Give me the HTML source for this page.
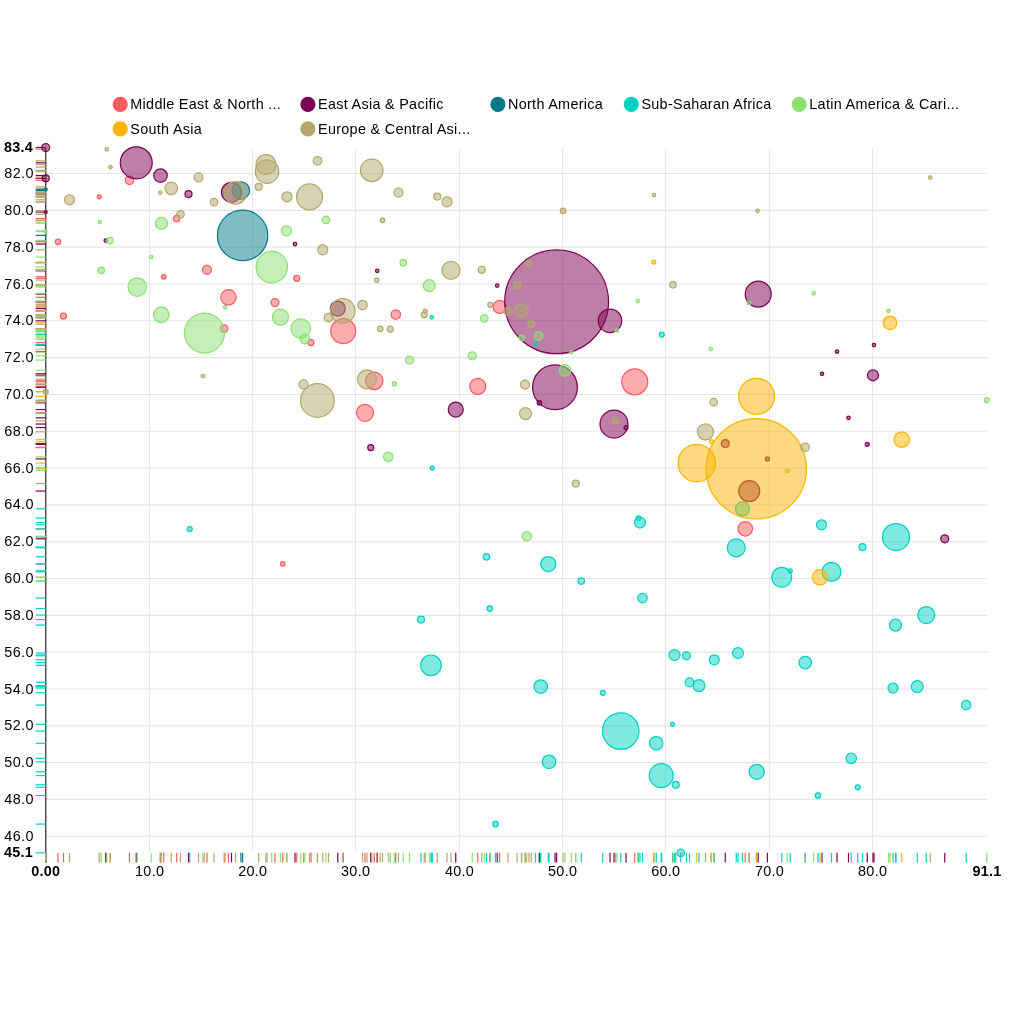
<!DOCTYPE html>
<html><head><meta charset="utf-8"><title>Bubble chart</title>
<style>
html,body{margin:0;padding:0;background:#fff;}
svg{display:block;font-family:"Liberation Sans",sans-serif;font-size:14.4px;fill:#000;letter-spacing:.3px;}
.grid line{stroke:#e4e4e4;stroke-width:1.1;}
.grid line.v{stroke:#e7e7e7;stroke-width:1;}
.pt circle{fill-opacity:.5;stroke-width:1.2;}
.dist line{stroke-width:1.2;}
.b{font-weight:bold;}
</style></head><body>
<svg width="1024" height="1024" viewBox="0 0 1024 1024">
<rect width="1024" height="1024" fill="#fff"/>
<g class="legend">
<circle cx="120.2" cy="104.3" r="6.4" fill="#ff5a5f" stroke="#ff5a5f" stroke-width="2.4"/><text x="130.3" y="104.3" dy=".32em">Middle East &amp; North ...</text>
<circle cx="307.9" cy="104.3" r="6.4" fill="#7b0051" stroke="#7b0051" stroke-width="2.4"/><text x="318.0" y="104.3" dy=".32em">East Asia &amp; Pacific</text>
<circle cx="497.9" cy="104.3" r="6.4" fill="#007a87" stroke="#007a87" stroke-width="2.4"/><text x="508.0" y="104.3" dy=".32em">North America</text>
<circle cx="631.3" cy="104.3" r="6.4" fill="#00d1c1" stroke="#00d1c1" stroke-width="2.4"/><text x="641.4" y="104.3" dy=".32em">Sub-Saharan Africa</text>
<circle cx="799.2" cy="104.3" r="6.4" fill="#8ce071" stroke="#8ce071" stroke-width="2.4"/><text x="809.3" y="104.3" dy=".32em">Latin America &amp; Cari...</text>
<circle cx="120.2" cy="128.9" r="6.4" fill="#ffb400" stroke="#ffb400" stroke-width="2.4"/><text x="130.3" y="128.9" dy=".32em">South Asia</text>
<circle cx="307.9" cy="128.9" r="6.4" fill="#b4a76c" stroke="#b4a76c" stroke-width="2.4"/><text x="318.0" y="128.9" dy=".32em">Europe &amp; Central Asi...</text>
</g>
<g class="grid">
<line x1="45.75" x2="987.0" y1="836.23" y2="836.23"/>
<line x1="45.75" x2="987.0" y1="799.42" y2="799.42"/>
<line x1="45.75" x2="987.0" y1="762.60" y2="762.60"/>
<line x1="45.75" x2="987.0" y1="725.78" y2="725.78"/>
<line x1="45.75" x2="987.0" y1="688.96" y2="688.96"/>
<line x1="45.75" x2="987.0" y1="652.15" y2="652.15"/>
<line x1="45.75" x2="987.0" y1="615.33" y2="615.33"/>
<line x1="45.75" x2="987.0" y1="578.51" y2="578.51"/>
<line x1="45.75" x2="987.0" y1="541.69" y2="541.69"/>
<line x1="45.75" x2="987.0" y1="504.88" y2="504.88"/>
<line x1="45.75" x2="987.0" y1="468.06" y2="468.06"/>
<line x1="45.75" x2="987.0" y1="431.24" y2="431.24"/>
<line x1="45.75" x2="987.0" y1="394.43" y2="394.43"/>
<line x1="45.75" x2="987.0" y1="357.61" y2="357.61"/>
<line x1="45.75" x2="987.0" y1="320.79" y2="320.79"/>
<line x1="45.75" x2="987.0" y1="283.97" y2="283.97"/>
<line x1="45.75" x2="987.0" y1="247.16" y2="247.16"/>
<line x1="45.75" x2="987.0" y1="210.34" y2="210.34"/>
<line x1="45.75" x2="987.0" y1="173.52" y2="173.52"/>
<line class="v" x1="149.50" x2="149.50" y1="147.75" y2="852.8"/>
<line class="v" x1="252.60" x2="252.60" y1="147.75" y2="852.8"/>
<line class="v" x1="355.50" x2="355.50" y1="147.75" y2="852.8"/>
<line class="v" x1="459.40" x2="459.40" y1="147.75" y2="852.8"/>
<line class="v" x1="562.50" x2="562.50" y1="147.75" y2="852.8"/>
<line class="v" x1="665.60" x2="665.60" y1="147.75" y2="852.8"/>
<line class="v" x1="769.40" x2="769.40" y1="147.75" y2="852.8"/>
<line class="v" x1="872.50" x2="872.50" y1="147.75" y2="852.8"/>
</g>
<g class="ylab" text-anchor="end">
<text x="34.0" y="836.23" dy=".32em" style="letter-spacing:.45px">46.0</text>
<text x="34.0" y="799.42" dy=".32em" style="letter-spacing:.45px">48.0</text>
<text x="34.0" y="762.60" dy=".32em" style="letter-spacing:.45px">50.0</text>
<text x="34.0" y="725.78" dy=".32em" style="letter-spacing:.45px">52.0</text>
<text x="34.0" y="688.96" dy=".32em" style="letter-spacing:.45px">54.0</text>
<text x="34.0" y="652.15" dy=".32em" style="letter-spacing:.45px">56.0</text>
<text x="34.0" y="615.33" dy=".32em" style="letter-spacing:.45px">58.0</text>
<text x="34.0" y="578.51" dy=".32em" style="letter-spacing:.45px">60.0</text>
<text x="34.0" y="541.69" dy=".32em" style="letter-spacing:.45px">62.0</text>
<text x="34.0" y="504.88" dy=".32em" style="letter-spacing:.45px">64.0</text>
<text x="34.0" y="468.06" dy=".32em" style="letter-spacing:.45px">66.0</text>
<text x="34.0" y="431.24" dy=".32em" style="letter-spacing:.45px">68.0</text>
<text x="34.0" y="394.43" dy=".32em" style="letter-spacing:.45px">70.0</text>
<text x="34.0" y="357.61" dy=".32em" style="letter-spacing:.45px">72.0</text>
<text x="34.0" y="320.79" dy=".32em" style="letter-spacing:.45px">74.0</text>
<text x="34.0" y="283.97" dy=".32em" style="letter-spacing:.45px">76.0</text>
<text x="34.0" y="247.16" dy=".32em" style="letter-spacing:.45px">78.0</text>
<text x="34.0" y="210.34" dy=".32em" style="letter-spacing:.45px">80.0</text>
<text x="34.0" y="173.52" dy=".32em" style="letter-spacing:.45px">82.0</text>
<text class="b" x="33.2" y="147.75" dy=".32em">83.4</text>
<text class="b" x="33.2" y="852.8" dy=".32em">45.1</text>
</g>
<g class="xlab" text-anchor="middle">
<text x="149.65" y="875.8">10.0</text>
<text x="252.75" y="875.8">20.0</text>
<text x="355.65" y="875.8">30.0</text>
<text x="459.55" y="875.8">40.0</text>
<text x="562.65" y="875.8">50.0</text>
<text x="665.75" y="875.8">60.0</text>
<text x="769.55" y="875.8">70.0</text>
<text x="872.65" y="875.8">80.0</text>
<text class="b" x="45.75" y="875.8">0.00</text>
<text class="b" x="987.0" y="875.8">91.1</text>
</g>
<line x1="45.75" x2="45.75" y1="147.75" y2="852.8" stroke="#000" stroke-opacity=".78" stroke-width="1.3"/>
<g class="dist">
<g stroke="#ff5a5f">
<line x1="35.65" x2="45.75" y1="180.30" y2="180.30"/><line x1="35.65" x2="45.75" y1="196.80" y2="196.80"/><line x1="35.65" x2="45.75" y1="241.80" y2="241.80"/><line x1="35.65" x2="45.75" y1="276.80" y2="276.80"/><line x1="35.65" x2="45.75" y1="316.05" y2="316.05"/><line x1="35.65" x2="45.75" y1="328.55" y2="328.55"/><line x1="35.65" x2="45.75" y1="297.30" y2="297.30"/><line x1="35.65" x2="45.75" y1="269.80" y2="269.80"/><line x1="35.65" x2="45.75" y1="218.55" y2="218.55"/><line x1="35.65" x2="45.75" y1="278.30" y2="278.30"/><line x1="35.65" x2="45.75" y1="302.55" y2="302.55"/><line x1="35.65" x2="45.75" y1="342.55" y2="342.55"/><line x1="35.65" x2="45.75" y1="331.05" y2="331.05"/><line x1="35.65" x2="45.75" y1="314.55" y2="314.55"/><line x1="35.65" x2="45.75" y1="306.90" y2="306.90"/><line x1="35.65" x2="45.75" y1="380.80" y2="380.80"/><line x1="35.65" x2="45.75" y1="386.30" y2="386.30"/><line x1="35.65" x2="45.75" y1="381.80" y2="381.80"/><line x1="35.65" x2="45.75" y1="412.80" y2="412.80"/><line x1="35.65" x2="45.75" y1="563.80" y2="563.80"/><line x1="35.65" x2="45.75" y1="528.80" y2="528.80"/>
<line x1="129.5" x2="129.5" y1="852.8" y2="862.40"/><line x1="99.25" x2="99.25" y1="852.8" y2="862.40"/><line x1="58" x2="58" y1="852.8" y2="862.40"/><line x1="163.75" x2="163.75" y1="852.8" y2="862.40"/><line x1="63.5" x2="63.5" y1="852.8" y2="862.40"/><line x1="224.25" x2="224.25" y1="852.8" y2="862.40"/><line x1="228.5" x2="228.5" y1="852.8" y2="862.40"/><line x1="207" x2="207" y1="852.8" y2="862.40"/><line x1="176.75" x2="176.75" y1="852.8" y2="862.40"/><line x1="296.75" x2="296.75" y1="852.8" y2="862.40"/><line x1="275" x2="275" y1="852.8" y2="862.40"/><line x1="311" x2="311" y1="852.8" y2="862.40"/><line x1="343.25" x2="343.25" y1="852.8" y2="862.40"/><line x1="395.75" x2="395.75" y1="852.8" y2="862.40"/><line x1="499.6" x2="499.6" y1="852.8" y2="862.40"/><line x1="374.25" x2="374.25" y1="852.8" y2="862.40"/><line x1="477.75" x2="477.75" y1="852.8" y2="862.40"/><line x1="634.75" x2="634.75" y1="852.8" y2="862.40"/><line x1="365" x2="365" y1="852.8" y2="862.40"/><line x1="282.75" x2="282.75" y1="852.8" y2="862.40"/><line x1="745.25" x2="745.25" y1="852.8" y2="862.40"/>
</g>
<g stroke="#7b0051">
<line x1="35.65" x2="45.75" y1="147.55" y2="147.55"/><line x1="35.65" x2="45.75" y1="178.30" y2="178.30"/><line x1="35.65" x2="45.75" y1="212.05" y2="212.05"/><line x1="35.65" x2="45.75" y1="162.80" y2="162.80"/><line x1="35.65" x2="45.75" y1="240.55" y2="240.55"/><line x1="35.65" x2="45.75" y1="175.55" y2="175.55"/><line x1="35.65" x2="45.75" y1="194.05" y2="194.05"/><line x1="35.65" x2="45.75" y1="192.30" y2="192.30"/><line x1="35.65" x2="45.75" y1="244.05" y2="244.05"/><line x1="35.65" x2="45.75" y1="270.80" y2="270.80"/><line x1="35.65" x2="45.75" y1="285.55" y2="285.55"/><line x1="35.65" x2="45.75" y1="308.55" y2="308.55"/><line x1="35.65" x2="45.75" y1="301.80" y2="301.80"/><line x1="35.65" x2="45.75" y1="320.80" y2="320.80"/><line x1="35.65" x2="45.75" y1="294.05" y2="294.05"/><line x1="35.65" x2="45.75" y1="387.30" y2="387.30"/><line x1="35.65" x2="45.75" y1="345.05" y2="345.05"/><line x1="35.65" x2="45.75" y1="351.55" y2="351.55"/><line x1="35.65" x2="45.75" y1="373.80" y2="373.80"/><line x1="35.65" x2="45.75" y1="375.30" y2="375.30"/><line x1="35.65" x2="45.75" y1="409.55" y2="409.55"/><line x1="35.65" x2="45.75" y1="447.55" y2="447.55"/><line x1="35.65" x2="45.75" y1="402.80" y2="402.80"/><line x1="35.65" x2="45.75" y1="424.05" y2="424.05"/><line x1="35.65" x2="45.75" y1="427.55" y2="427.55"/><line x1="35.65" x2="45.75" y1="443.55" y2="443.55"/><line x1="35.65" x2="45.75" y1="491.05" y2="491.05"/><line x1="35.65" x2="45.75" y1="458.90" y2="458.90"/><line x1="35.65" x2="45.75" y1="417.80" y2="417.80"/><line x1="35.65" x2="45.75" y1="444.30" y2="444.30"/><line x1="35.65" x2="45.75" y1="538.80" y2="538.80"/>
<line x1="45.75" x2="45.75" y1="852.8" y2="862.40"/><line x1="45.75" x2="45.75" y1="852.8" y2="862.40"/><line x1="45.75" x2="45.75" y1="852.8" y2="862.40"/><line x1="136.25" x2="136.25" y1="852.8" y2="862.40"/><line x1="105.75" x2="105.75" y1="852.8" y2="862.40"/><line x1="160.5" x2="160.5" y1="852.8" y2="862.40"/><line x1="188.5" x2="188.5" y1="852.8" y2="862.40"/><line x1="231.5" x2="231.5" y1="852.8" y2="862.40"/><line x1="295" x2="295" y1="852.8" y2="862.40"/><line x1="377.25" x2="377.25" y1="852.8" y2="862.40"/><line x1="497.2" x2="497.2" y1="852.8" y2="862.40"/><line x1="337.75" x2="337.75" y1="852.8" y2="862.40"/><line x1="556.6" x2="556.6" y1="852.8" y2="862.40"/><line x1="610" x2="610" y1="852.8" y2="862.40"/><line x1="758.25" x2="758.25" y1="852.8" y2="862.40"/><line x1="555" x2="555" y1="852.8" y2="862.40"/><line x1="874" x2="874" y1="852.8" y2="862.40"/><line x1="837" x2="837" y1="852.8" y2="862.40"/><line x1="822" x2="822" y1="852.8" y2="862.40"/><line x1="873" x2="873" y1="852.8" y2="862.40"/><line x1="455.75" x2="455.75" y1="852.8" y2="862.40"/><line x1="370.75" x2="370.75" y1="852.8" y2="862.40"/><line x1="539.5" x2="539.5" y1="852.8" y2="862.40"/><line x1="614" x2="614" y1="852.8" y2="862.40"/><line x1="626" x2="626" y1="852.8" y2="862.40"/><line x1="725.25" x2="725.25" y1="852.8" y2="862.40"/><line x1="749.25" x2="749.25" y1="852.8" y2="862.40"/><line x1="767.4" x2="767.4" y1="852.8" y2="862.40"/><line x1="848.5" x2="848.5" y1="852.8" y2="862.40"/><line x1="867.25" x2="867.25" y1="852.8" y2="862.40"/><line x1="944.75" x2="944.75" y1="852.8" y2="862.40"/>
</g>
<g stroke="#007a87">
<line x1="35.65" x2="45.75" y1="189.30" y2="189.30"/><line x1="35.65" x2="45.75" y1="190.50" y2="190.50"/><line x1="35.65" x2="45.75" y1="235.40" y2="235.40"/>
<line x1="45.75" x2="45.75" y1="852.8" y2="862.40"/><line x1="240.9" x2="240.9" y1="852.8" y2="862.40"/><line x1="242.6" x2="242.6" y1="852.8" y2="862.40"/>
</g>
<g stroke="#00d1c1">
<line x1="35.65" x2="45.75" y1="317.30" y2="317.30"/><line x1="35.65" x2="45.75" y1="334.55" y2="334.55"/><line x1="35.65" x2="45.75" y1="344.30" y2="344.30"/><line x1="35.65" x2="45.75" y1="529.05" y2="529.05"/><line x1="35.65" x2="45.75" y1="468.05" y2="468.05"/><line x1="35.65" x2="45.75" y1="556.80" y2="556.80"/><line x1="35.65" x2="45.75" y1="608.55" y2="608.55"/><line x1="35.65" x2="45.75" y1="619.55" y2="619.55"/><line x1="35.65" x2="45.75" y1="508.80" y2="508.80"/><line x1="35.65" x2="45.75" y1="547.80" y2="547.80"/><line x1="35.65" x2="45.75" y1="522.55" y2="522.55"/><line x1="35.65" x2="45.75" y1="518.05" y2="518.05"/><line x1="35.65" x2="45.75" y1="564.05" y2="564.05"/><line x1="35.65" x2="45.75" y1="581.05" y2="581.05"/><line x1="35.65" x2="45.75" y1="598.05" y2="598.05"/><line x1="35.65" x2="45.75" y1="524.80" y2="524.80"/><line x1="35.65" x2="45.75" y1="537.05" y2="537.05"/><line x1="35.65" x2="45.75" y1="547.05" y2="547.05"/><line x1="35.65" x2="45.75" y1="577.30" y2="577.30"/><line x1="35.65" x2="45.75" y1="570.80" y2="570.80"/><line x1="35.65" x2="45.75" y1="571.80" y2="571.80"/><line x1="35.65" x2="45.75" y1="615.05" y2="615.05"/><line x1="35.65" x2="45.75" y1="625.05" y2="625.05"/><line x1="35.65" x2="45.75" y1="665.30" y2="665.30"/><line x1="35.65" x2="45.75" y1="824.05" y2="824.05"/><line x1="35.65" x2="45.75" y1="655.05" y2="655.05"/><line x1="35.65" x2="45.75" y1="655.80" y2="655.80"/><line x1="35.65" x2="45.75" y1="659.80" y2="659.80"/><line x1="35.65" x2="45.75" y1="653.05" y2="653.05"/><line x1="35.65" x2="45.75" y1="682.30" y2="682.30"/><line x1="35.65" x2="45.75" y1="685.55" y2="685.55"/><line x1="35.65" x2="45.75" y1="686.55" y2="686.55"/><line x1="35.65" x2="45.75" y1="692.80" y2="692.80"/><line x1="35.65" x2="45.75" y1="731.05" y2="731.05"/><line x1="35.65" x2="45.75" y1="724.30" y2="724.30"/><line x1="35.65" x2="45.75" y1="743.30" y2="743.30"/><line x1="35.65" x2="45.75" y1="761.80" y2="761.80"/><line x1="35.65" x2="45.75" y1="775.55" y2="775.55"/><line x1="35.65" x2="45.75" y1="784.80" y2="784.80"/><line x1="35.65" x2="45.75" y1="771.80" y2="771.80"/><line x1="35.65" x2="45.75" y1="852.80" y2="852.80"/><line x1="35.65" x2="45.75" y1="662.55" y2="662.55"/><line x1="35.65" x2="45.75" y1="688.05" y2="688.05"/><line x1="35.65" x2="45.75" y1="686.55" y2="686.55"/><line x1="35.65" x2="45.75" y1="705.05" y2="705.05"/><line x1="35.65" x2="45.75" y1="758.30" y2="758.30"/><line x1="35.65" x2="45.75" y1="787.30" y2="787.30"/><line x1="35.65" x2="45.75" y1="795.55" y2="795.55"/>
<line x1="431.75" x2="431.75" y1="852.8" y2="862.40"/><line x1="661.75" x2="661.75" y1="852.8" y2="862.40"/><line x1="535.5" x2="535.5" y1="852.8" y2="862.40"/><line x1="189.75" x2="189.75" y1="852.8" y2="862.40"/><line x1="432.25" x2="432.25" y1="852.8" y2="862.40"/><line x1="486.5" x2="486.5" y1="852.8" y2="862.40"/><line x1="489.75" x2="489.75" y1="852.8" y2="862.40"/><line x1="421" x2="421" y1="852.8" y2="862.40"/><line x1="742.5" x2="742.5" y1="852.8" y2="862.40"/><line x1="736.25" x2="736.25" y1="852.8" y2="862.40"/><line x1="640" x2="640" y1="852.8" y2="862.40"/><line x1="638.5" x2="638.5" y1="852.8" y2="862.40"/><line x1="548.25" x2="548.25" y1="852.8" y2="862.40"/><line x1="581.25" x2="581.25" y1="852.8" y2="862.40"/><line x1="642.5" x2="642.5" y1="852.8" y2="862.40"/><line x1="821.5" x2="821.5" y1="852.8" y2="862.40"/><line x1="896" x2="896" y1="852.8" y2="862.40"/><line x1="862.5" x2="862.5" y1="852.8" y2="862.40"/><line x1="781.75" x2="781.75" y1="852.8" y2="862.40"/><line x1="790.25" x2="790.25" y1="852.8" y2="862.40"/><line x1="831.5" x2="831.5" y1="852.8" y2="862.40"/><line x1="926.25" x2="926.25" y1="852.8" y2="862.40"/><line x1="895.5" x2="895.5" y1="852.8" y2="862.40"/><line x1="431" x2="431" y1="852.8" y2="862.40"/><line x1="495.5" x2="495.5" y1="852.8" y2="862.40"/><line x1="674.5" x2="674.5" y1="852.8" y2="862.40"/><line x1="686.5" x2="686.5" y1="852.8" y2="862.40"/><line x1="714.25" x2="714.25" y1="852.8" y2="862.40"/><line x1="738" x2="738" y1="852.8" y2="862.40"/><line x1="689.5" x2="689.5" y1="852.8" y2="862.40"/><line x1="699" x2="699" y1="852.8" y2="862.40"/><line x1="540.75" x2="540.75" y1="852.8" y2="862.40"/><line x1="602.75" x2="602.75" y1="852.8" y2="862.40"/><line x1="620.75" x2="620.75" y1="852.8" y2="862.40"/><line x1="672.5" x2="672.5" y1="852.8" y2="862.40"/><line x1="656.25" x2="656.25" y1="852.8" y2="862.40"/><line x1="549" x2="549" y1="852.8" y2="862.40"/><line x1="661.25" x2="661.25" y1="852.8" y2="862.40"/><line x1="675.75" x2="675.75" y1="852.8" y2="862.40"/><line x1="756.75" x2="756.75" y1="852.8" y2="862.40"/><line x1="680.75" x2="680.75" y1="852.8" y2="862.40"/><line x1="805.25" x2="805.25" y1="852.8" y2="862.40"/><line x1="893" x2="893" y1="852.8" y2="862.40"/><line x1="917.25" x2="917.25" y1="852.8" y2="862.40"/><line x1="966.25" x2="966.25" y1="852.8" y2="862.40"/><line x1="851.25" x2="851.25" y1="852.8" y2="862.40"/><line x1="857.75" x2="857.75" y1="852.8" y2="862.40"/><line x1="818" x2="818" y1="852.8" y2="862.40"/>
</g>
<g stroke="#8ce071">
<line x1="35.65" x2="45.75" y1="231.55" y2="231.55"/><line x1="35.65" x2="45.75" y1="222.05" y2="222.05"/><line x1="35.65" x2="45.75" y1="240.55" y2="240.55"/><line x1="35.65" x2="45.75" y1="257.05" y2="257.05"/><line x1="35.65" x2="45.75" y1="270.30" y2="270.30"/><line x1="35.65" x2="45.75" y1="287.05" y2="287.05"/><line x1="35.65" x2="45.75" y1="314.80" y2="314.80"/><line x1="35.65" x2="45.75" y1="333.05" y2="333.05"/><line x1="35.65" x2="45.75" y1="307.30" y2="307.30"/><line x1="35.65" x2="45.75" y1="223.30" y2="223.30"/><line x1="35.65" x2="45.75" y1="219.80" y2="219.80"/><line x1="35.65" x2="45.75" y1="230.80" y2="230.80"/><line x1="35.65" x2="45.75" y1="267.05" y2="267.05"/><line x1="35.65" x2="45.75" y1="262.80" y2="262.80"/><line x1="35.65" x2="45.75" y1="285.55" y2="285.55"/><line x1="35.65" x2="45.75" y1="317.05" y2="317.05"/><line x1="35.65" x2="45.75" y1="328.55" y2="328.55"/><line x1="35.65" x2="45.75" y1="339.05" y2="339.05"/><line x1="35.65" x2="45.75" y1="318.30" y2="318.30"/><line x1="35.65" x2="45.75" y1="355.80" y2="355.80"/><line x1="35.65" x2="45.75" y1="360.05" y2="360.05"/><line x1="35.65" x2="45.75" y1="383.80" y2="383.80"/><line x1="35.65" x2="45.75" y1="301.05" y2="301.05"/><line x1="35.65" x2="45.75" y1="330.55" y2="330.55"/><line x1="35.65" x2="45.75" y1="349.05" y2="349.05"/><line x1="35.65" x2="45.75" y1="303.05" y2="303.05"/><line x1="35.65" x2="45.75" y1="336.05" y2="336.05"/><line x1="35.65" x2="45.75" y1="337.80" y2="337.80"/><line x1="35.65" x2="45.75" y1="352.05" y2="352.05"/><line x1="35.65" x2="45.75" y1="370.30" y2="370.30"/><line x1="35.65" x2="45.75" y1="293.30" y2="293.30"/><line x1="35.65" x2="45.75" y1="310.80" y2="310.80"/><line x1="35.65" x2="45.75" y1="456.80" y2="456.80"/><line x1="35.65" x2="45.75" y1="470.55" y2="470.55"/><line x1="35.65" x2="45.75" y1="536.30" y2="536.30"/><line x1="35.65" x2="45.75" y1="400.05" y2="400.05"/>
<line x1="45.75" x2="45.75" y1="852.8" y2="862.40"/><line x1="99.75" x2="99.75" y1="852.8" y2="862.40"/><line x1="110" x2="110" y1="852.8" y2="862.40"/><line x1="151.25" x2="151.25" y1="852.8" y2="862.40"/><line x1="101.25" x2="101.25" y1="852.8" y2="862.40"/><line x1="137.25" x2="137.25" y1="852.8" y2="862.40"/><line x1="161.25" x2="161.25" y1="852.8" y2="862.40"/><line x1="204.5" x2="204.5" y1="852.8" y2="862.40"/><line x1="225.25" x2="225.25" y1="852.8" y2="862.40"/><line x1="161.5" x2="161.5" y1="852.8" y2="862.40"/><line x1="326" x2="326" y1="852.8" y2="862.40"/><line x1="286.5" x2="286.5" y1="852.8" y2="862.40"/><line x1="271.75" x2="271.75" y1="852.8" y2="862.40"/><line x1="403.25" x2="403.25" y1="852.8" y2="862.40"/><line x1="429.25" x2="429.25" y1="852.8" y2="862.40"/><line x1="280.5" x2="280.5" y1="852.8" y2="862.40"/><line x1="300.75" x2="300.75" y1="852.8" y2="862.40"/><line x1="304.75" x2="304.75" y1="852.8" y2="862.40"/><line x1="484.25" x2="484.25" y1="852.8" y2="862.40"/><line x1="472.25" x2="472.25" y1="852.8" y2="862.40"/><line x1="409.5" x2="409.5" y1="852.8" y2="862.40"/><line x1="394.3" x2="394.3" y1="852.8" y2="862.40"/><line x1="637.75" x2="637.75" y1="852.8" y2="862.40"/><line x1="617" x2="617" y1="852.8" y2="862.40"/><line x1="710.75" x2="710.75" y1="852.8" y2="862.40"/><line x1="749.25" x2="749.25" y1="852.8" y2="862.40"/><line x1="538.5" x2="538.5" y1="852.8" y2="862.40"/><line x1="521.75" x2="521.75" y1="852.8" y2="862.40"/><line x1="571.25" x2="571.25" y1="852.8" y2="862.40"/><line x1="565" x2="565" y1="852.8" y2="862.40"/><line x1="813.75" x2="813.75" y1="852.8" y2="862.40"/><line x1="888.5" x2="888.5" y1="852.8" y2="862.40"/><line x1="388.25" x2="388.25" y1="852.8" y2="862.40"/><line x1="787.25" x2="787.25" y1="852.8" y2="862.40"/><line x1="526.75" x2="526.75" y1="852.8" y2="862.40"/><line x1="986.75" x2="986.75" y1="852.8" y2="862.40"/>
</g>
<g stroke="#ffb400">
<line x1="35.65" x2="45.75" y1="262.05" y2="262.05"/><line x1="35.65" x2="45.75" y1="396.30" y2="396.30"/><line x1="35.65" x2="45.75" y1="322.80" y2="322.80"/><line x1="35.65" x2="45.75" y1="468.80" y2="468.80"/><line x1="35.65" x2="45.75" y1="463.05" y2="463.05"/><line x1="35.65" x2="45.75" y1="441.55" y2="441.55"/><line x1="35.65" x2="45.75" y1="439.55" y2="439.55"/><line x1="35.65" x2="45.75" y1="577.30" y2="577.30"/>
<line x1="653.75" x2="653.75" y1="852.8" y2="862.40"/><line x1="756.6" x2="756.6" y1="852.8" y2="862.40"/><line x1="890" x2="890" y1="852.8" y2="862.40"/><line x1="756.25" x2="756.25" y1="852.8" y2="862.40"/><line x1="696.75" x2="696.75" y1="852.8" y2="862.40"/><line x1="711.5" x2="711.5" y1="852.8" y2="862.40"/><line x1="901.75" x2="901.75" y1="852.8" y2="862.40"/><line x1="820" x2="820" y1="852.8" y2="862.40"/>
</g>
<g stroke="#8ce071">


</g>
<g stroke="#b4a76c">
<line x1="35.65" x2="45.75" y1="391.80" y2="391.80"/><line x1="35.65" x2="45.75" y1="149.30" y2="149.30"/><line x1="35.65" x2="45.75" y1="167.05" y2="167.05"/><line x1="35.65" x2="45.75" y1="199.80" y2="199.80"/><line x1="35.65" x2="45.75" y1="188.30" y2="188.30"/><line x1="35.65" x2="45.75" y1="192.55" y2="192.55"/><line x1="35.65" x2="45.75" y1="177.30" y2="177.30"/><line x1="35.65" x2="45.75" y1="202.05" y2="202.05"/><line x1="35.65" x2="45.75" y1="214.30" y2="214.30"/><line x1="35.65" x2="45.75" y1="192.80" y2="192.80"/><line x1="35.65" x2="45.75" y1="376.05" y2="376.05"/><line x1="35.65" x2="45.75" y1="164.55" y2="164.55"/><line x1="35.65" x2="45.75" y1="171.55" y2="171.55"/><line x1="35.65" x2="45.75" y1="186.80" y2="186.80"/><line x1="35.65" x2="45.75" y1="160.80" y2="160.80"/><line x1="35.65" x2="45.75" y1="170.30" y2="170.30"/><line x1="35.65" x2="45.75" y1="196.80" y2="196.80"/><line x1="35.65" x2="45.75" y1="196.80" y2="196.80"/><line x1="35.65" x2="45.75" y1="192.55" y2="192.55"/><line x1="35.65" x2="45.75" y1="196.55" y2="196.55"/><line x1="35.65" x2="45.75" y1="201.80" y2="201.80"/><line x1="35.65" x2="45.75" y1="220.30" y2="220.30"/><line x1="35.65" x2="45.75" y1="249.80" y2="249.80"/><line x1="35.65" x2="45.75" y1="280.05" y2="280.05"/><line x1="35.65" x2="45.75" y1="270.30" y2="270.30"/><line x1="35.65" x2="45.75" y1="269.80" y2="269.80"/><line x1="35.65" x2="45.75" y1="317.55" y2="317.55"/><line x1="35.65" x2="45.75" y1="310.80" y2="310.80"/><line x1="35.65" x2="45.75" y1="305.05" y2="305.05"/><line x1="35.65" x2="45.75" y1="311.05" y2="311.05"/><line x1="35.65" x2="45.75" y1="314.80" y2="314.80"/><line x1="35.65" x2="45.75" y1="328.80" y2="328.80"/><line x1="35.65" x2="45.75" y1="329.05" y2="329.05"/><line x1="35.65" x2="45.75" y1="304.80" y2="304.80"/><line x1="35.65" x2="45.75" y1="311.30" y2="311.30"/><line x1="35.65" x2="45.75" y1="379.30" y2="379.30"/><line x1="35.65" x2="45.75" y1="384.30" y2="384.30"/><line x1="35.65" x2="45.75" y1="210.80" y2="210.80"/><line x1="35.65" x2="45.75" y1="195.05" y2="195.05"/><line x1="35.65" x2="45.75" y1="210.80" y2="210.80"/><line x1="35.65" x2="45.75" y1="284.80" y2="284.80"/><line x1="35.65" x2="45.75" y1="262.80" y2="262.80"/><line x1="35.65" x2="45.75" y1="285.05" y2="285.05"/><line x1="35.65" x2="45.75" y1="310.55" y2="310.55"/><line x1="35.65" x2="45.75" y1="324.30" y2="324.30"/><line x1="35.65" x2="45.75" y1="384.55" y2="384.55"/><line x1="35.65" x2="45.75" y1="177.55" y2="177.55"/><line x1="35.65" x2="45.75" y1="400.50" y2="400.50"/><line x1="35.65" x2="45.75" y1="413.55" y2="413.55"/><line x1="35.65" x2="45.75" y1="420.80" y2="420.80"/><line x1="35.65" x2="45.75" y1="402.05" y2="402.05"/><line x1="35.65" x2="45.75" y1="431.80" y2="431.80"/><line x1="35.65" x2="45.75" y1="483.55" y2="483.55"/><line x1="35.65" x2="45.75" y1="447.30" y2="447.30"/>
<line x1="45.75" x2="45.75" y1="852.8" y2="862.40"/><line x1="106.75" x2="106.75" y1="852.8" y2="862.40"/><line x1="110.5" x2="110.5" y1="852.8" y2="862.40"/><line x1="69.5" x2="69.5" y1="852.8" y2="862.40"/><line x1="171.25" x2="171.25" y1="852.8" y2="862.40"/><line x1="160.25" x2="160.25" y1="852.8" y2="862.40"/><line x1="198.5" x2="198.5" y1="852.8" y2="862.40"/><line x1="214" x2="214" y1="852.8" y2="862.40"/><line x1="180.5" x2="180.5" y1="852.8" y2="862.40"/><line x1="235.5" x2="235.5" y1="852.8" y2="862.40"/><line x1="203" x2="203" y1="852.8" y2="862.40"/><line x1="266" x2="266" y1="852.8" y2="862.40"/><line x1="267" x2="267" y1="852.8" y2="862.40"/><line x1="258.75" x2="258.75" y1="852.8" y2="862.40"/><line x1="317.5" x2="317.5" y1="852.8" y2="862.40"/><line x1="371.75" x2="371.75" y1="852.8" y2="862.40"/><line x1="287" x2="287" y1="852.8" y2="862.40"/><line x1="309.5" x2="309.5" y1="852.8" y2="862.40"/><line x1="398.5" x2="398.5" y1="852.8" y2="862.40"/><line x1="437.25" x2="437.25" y1="852.8" y2="862.40"/><line x1="447" x2="447" y1="852.8" y2="862.40"/><line x1="382.5" x2="382.5" y1="852.8" y2="862.40"/><line x1="322.75" x2="322.75" y1="852.8" y2="862.40"/><line x1="376.75" x2="376.75" y1="852.8" y2="862.40"/><line x1="451" x2="451" y1="852.8" y2="862.40"/><line x1="481.75" x2="481.75" y1="852.8" y2="862.40"/><line x1="328.5" x2="328.5" y1="852.8" y2="862.40"/><line x1="342.75" x2="342.75" y1="852.8" y2="862.40"/><line x1="362.5" x2="362.5" y1="852.8" y2="862.40"/><line x1="425.25" x2="425.25" y1="852.8" y2="862.40"/><line x1="424.25" x2="424.25" y1="852.8" y2="862.40"/><line x1="380.25" x2="380.25" y1="852.8" y2="862.40"/><line x1="390.25" x2="390.25" y1="852.8" y2="862.40"/><line x1="490.25" x2="490.25" y1="852.8" y2="862.40"/><line x1="508" x2="508" y1="852.8" y2="862.40"/><line x1="367" x2="367" y1="852.8" y2="862.40"/><line x1="303.5" x2="303.5" y1="852.8" y2="862.40"/><line x1="563" x2="563" y1="852.8" y2="862.40"/><line x1="654" x2="654" y1="852.8" y2="862.40"/><line x1="757.5" x2="757.5" y1="852.8" y2="862.40"/><line x1="673" x2="673" y1="852.8" y2="862.40"/><line x1="529" x2="529" y1="852.8" y2="862.40"/><line x1="517" x2="517" y1="852.8" y2="862.40"/><line x1="521.5" x2="521.5" y1="852.8" y2="862.40"/><line x1="531.25" x2="531.25" y1="852.8" y2="862.40"/><line x1="525" x2="525" y1="852.8" y2="862.40"/><line x1="930.25" x2="930.25" y1="852.8" y2="862.40"/><line x1="317.4" x2="317.4" y1="852.8" y2="862.40"/><line x1="525.5" x2="525.5" y1="852.8" y2="862.40"/><line x1="615.5" x2="615.5" y1="852.8" y2="862.40"/><line x1="713.75" x2="713.75" y1="852.8" y2="862.40"/><line x1="705.5" x2="705.5" y1="852.8" y2="862.40"/><line x1="575.75" x2="575.75" y1="852.8" y2="862.40"/><line x1="805" x2="805" y1="852.8" y2="862.40"/>
</g>
</g>
<g class="pt">
<g fill="#ff5a5f" stroke="#ff5a5f">
<circle cx="129.5" cy="180.3" r="4.25"/><circle cx="99.25" cy="196.8" r="2"/><circle cx="58" cy="241.8" r="2.75"/><circle cx="163.75" cy="276.8" r="2.25"/><circle cx="63.5" cy="316.05" r="3"/><circle cx="224.25" cy="328.55" r="3.75"/><circle cx="228.5" cy="297.3" r="7.75"/><circle cx="207" cy="269.8" r="4.5"/><circle cx="176.75" cy="218.55" r="3.25"/><circle cx="296.75" cy="278.3" r="3"/><circle cx="275" cy="302.55" r="4"/><circle cx="311" cy="342.55" r="3"/><circle cx="343.25" cy="331.05" r="12.5"/><circle cx="395.75" cy="314.55" r="4.75"/><circle cx="499.6" cy="306.90000000000003" r="6.5"/><circle cx="374.25" cy="380.8" r="8.75"/><circle cx="477.75" cy="386.3" r="8"/><circle cx="634.75" cy="381.8" r="13"/><circle cx="365" cy="412.8" r="8.5"/><circle cx="282.75" cy="563.8" r="2.25"/><circle cx="745.25" cy="528.8" r="7.25"/>
</g>
<g fill="#7b0051" stroke="#7b0051">
<circle cx="45.75" cy="147.55" r="4"/><circle cx="45.75" cy="178.3" r="3.5"/><circle cx="45.75" cy="212.05" r="1.5"/><circle cx="136.25" cy="162.8" r="16"/><circle cx="105.75" cy="240.55" r="1.75"/><circle cx="160.5" cy="175.55" r="6.75"/><circle cx="188.5" cy="194.05" r="3.5"/><circle cx="231.5" cy="192.3" r="10"/><circle cx="295" cy="244.05" r="1.75"/><circle cx="377.25" cy="270.8" r="1.75"/><circle cx="497.2" cy="285.55" r="1.75"/><circle cx="337.75" cy="308.55" r="7.5"/><circle cx="556.6" cy="301.8" r="51.9"/><circle cx="610" cy="320.8" r="11.75"/><circle cx="758.25" cy="294.05" r="13"/><circle cx="555" cy="387.3" r="22.4"/><circle cx="874" cy="345.05" r="1.75"/><circle cx="837" cy="351.55" r="1.75"/><circle cx="822" cy="373.8" r="1.75"/><circle cx="873" cy="375.3" r="5.5"/><circle cx="455.75" cy="409.55" r="7.5"/><circle cx="370.75" cy="447.55" r="3"/><circle cx="539.5" cy="402.8" r="2.25"/><circle cx="614" cy="424.05" r="14"/><circle cx="626" cy="427.55" r="2"/><circle cx="725.25" cy="443.55" r="4"/><circle cx="749.25" cy="491.05" r="10.5"/><circle cx="767.4" cy="458.90000000000003" r="2"/><circle cx="848.5" cy="417.8" r="1.75"/><circle cx="867.25" cy="444.3" r="2"/><circle cx="944.75" cy="538.8" r="4"/>
</g>
<g fill="#007a87" stroke="#007a87">
<circle cx="45.75" cy="189.3" r="1.5"/><circle cx="240.9" cy="190.5" r="8.7"/><circle cx="242.6" cy="235.4" r="25.2"/>
</g>
<g fill="#00d1c1" stroke="#00d1c1">
<circle cx="431.75" cy="317.3" r="1.75"/><circle cx="661.75" cy="334.55" r="2.5"/><circle cx="535.5" cy="344.3" r="1.75"/><circle cx="189.75" cy="529.05" r="2.5"/><circle cx="432.25" cy="468.05" r="2"/><circle cx="486.5" cy="556.8" r="3.25"/><circle cx="489.75" cy="608.55" r="2.75"/><circle cx="421" cy="619.55" r="3.5"/><circle cx="742.5" cy="508.8" r="7"/><circle cx="736.25" cy="547.8" r="9"/><circle cx="640" cy="522.55" r="5.5"/><circle cx="638.5" cy="518.05" r="2.25"/><circle cx="548.25" cy="564.05" r="7.5"/><circle cx="581.25" cy="581.05" r="3.25"/><circle cx="642.5" cy="598.05" r="4.75"/><circle cx="821.5" cy="524.8" r="5"/><circle cx="896" cy="537.05" r="13.5"/><circle cx="862.5" cy="547.05" r="3.5"/><circle cx="781.75" cy="577.3" r="10"/><circle cx="790.25" cy="570.8" r="2"/><circle cx="831.5" cy="571.8" r="9.5"/><circle cx="926.25" cy="615.05" r="8.5"/><circle cx="895.5" cy="625.05" r="6"/><circle cx="431" cy="665.3" r="10.3"/><circle cx="495.5" cy="824.05" r="2.75"/><circle cx="674.5" cy="655.05" r="5.5"/><circle cx="686.5" cy="655.8" r="4"/><circle cx="714.25" cy="659.8" r="5"/><circle cx="738" cy="653.05" r="5.5"/><circle cx="689.5" cy="682.3" r="4.5"/><circle cx="699" cy="685.55" r="6"/><circle cx="540.75" cy="686.55" r="6.75"/><circle cx="602.75" cy="692.8" r="2.5"/><circle cx="620.75" cy="731.05" r="18.25"/><circle cx="672.5" cy="724.3" r="2"/><circle cx="656.25" cy="743.3" r="6.75"/><circle cx="549" cy="761.8" r="6.75"/><circle cx="661.25" cy="775.55" r="12"/><circle cx="675.75" cy="784.8" r="3.5"/><circle cx="756.75" cy="771.8" r="7.5"/><circle cx="680.75" cy="852.8" r="3.75"/><circle cx="805.25" cy="662.55" r="6.25"/><circle cx="893" cy="688.05" r="5"/><circle cx="917.25" cy="686.55" r="6"/><circle cx="966.25" cy="705.05" r="4.75"/><circle cx="851.25" cy="758.3" r="5.25"/><circle cx="857.75" cy="787.3" r="2.5"/><circle cx="818" cy="795.55" r="2.75"/>
</g>
<g fill="#8ce071" stroke="#8ce071">
<circle cx="45.75" cy="231.55" r="1.5"/><circle cx="99.75" cy="222.05" r="1.75"/><circle cx="110" cy="240.55" r="3.25"/><circle cx="151.25" cy="257.05" r="1.75"/><circle cx="101.25" cy="270.3" r="3.25"/><circle cx="137.25" cy="287.05" r="9.25"/><circle cx="161.25" cy="314.8" r="7.75"/><circle cx="204.5" cy="333.05" r="20"/><circle cx="225.25" cy="307.3" r="1.75"/><circle cx="161.5" cy="223.3" r="6"/><circle cx="326" cy="219.8" r="3.75"/><circle cx="286.5" cy="230.8" r="5"/><circle cx="271.75" cy="267.05" r="15.75"/><circle cx="403.25" cy="262.8" r="3.25"/><circle cx="429.25" cy="285.55" r="6"/><circle cx="280.5" cy="317.05" r="8"/><circle cx="300.75" cy="328.55" r="9.75"/><circle cx="304.75" cy="339.05" r="4.75"/><circle cx="484.25" cy="318.3" r="3.75"/><circle cx="472.25" cy="355.8" r="4"/><circle cx="409.5" cy="360.05" r="4"/><circle cx="394.3" cy="383.8" r="2.1"/><circle cx="637.75" cy="301.05" r="1.75"/><circle cx="617" cy="330.55" r="1.75"/><circle cx="710.75" cy="349.05" r="1.75"/><circle cx="749.25" cy="303.05" r="1.75"/><circle cx="538.5" cy="336.05" r="4.25"/><circle cx="521.75" cy="337.8" r="2.75"/><circle cx="571.25" cy="352.05" r="1.75"/><circle cx="565" cy="370.3" r="5.75"/><circle cx="813.75" cy="293.3" r="1.75"/><circle cx="888.5" cy="310.8" r="1.75"/><circle cx="388.25" cy="456.8" r="4.75"/><circle cx="787.25" cy="470.55" r="2"/><circle cx="526.75" cy="536.3" r="4.75"/><circle cx="986.75" cy="400.05" r="2.5"/>
</g>
<g fill="#ffb400" stroke="#ffb400">
<circle cx="653.75" cy="262.05" r="2"/><circle cx="756.6" cy="396.3" r="18.0"/><circle cx="890" cy="322.8" r="6.75"/><circle cx="756.25" cy="468.8" r="50.2"/><circle cx="696.75" cy="463.05" r="18.75"/><circle cx="711.5" cy="441.55" r="2"/><circle cx="901.75" cy="439.55" r="7.75"/><circle cx="820" cy="577.3" r="7.75"/>
</g>
<g fill="#8ce071" stroke="#8ce071">

</g>
<g fill="#b4a76c" stroke="#b4a76c">
<circle cx="45.75" cy="391.8" r="2.5"/><circle cx="106.75" cy="149.3" r="1.75"/><circle cx="110.5" cy="167.05" r="1.75"/><circle cx="69.5" cy="199.8" r="5"/><circle cx="171.25" cy="188.3" r="6.25"/><circle cx="160.25" cy="192.55" r="1.75"/><circle cx="198.5" cy="177.3" r="4.5"/><circle cx="214" cy="202.05" r="3.75"/><circle cx="180.5" cy="214.3" r="3.75"/><circle cx="235.5" cy="192.8" r="11.25"/><circle cx="203" cy="376.05" r="1.75"/><circle cx="266" cy="164.55" r="10"/><circle cx="267" cy="171.55" r="11.75"/><circle cx="258.75" cy="186.8" r="3.5"/><circle cx="317.5" cy="160.8" r="4.25"/><circle cx="371.75" cy="170.3" r="11.25"/><circle cx="287" cy="196.8" r="5"/><circle cx="309.5" cy="196.8" r="13"/><circle cx="398.5" cy="192.55" r="4.5"/><circle cx="437.25" cy="196.55" r="3.5"/><circle cx="447" cy="201.8" r="5"/><circle cx="382.5" cy="220.3" r="2.25"/><circle cx="322.75" cy="249.8" r="5"/><circle cx="376.75" cy="280.05" r="2.25"/><circle cx="451" cy="270.3" r="9"/><circle cx="481.75" cy="269.8" r="3.5"/><circle cx="328.5" cy="317.55" r="4.25"/><circle cx="342.75" cy="310.8" r="12.25"/><circle cx="362.5" cy="305.05" r="4.75"/><circle cx="425.25" cy="311.05" r="2"/><circle cx="424.25" cy="314.8" r="3"/><circle cx="380.25" cy="328.8" r="2.75"/><circle cx="390.25" cy="329.05" r="3"/><circle cx="490.25" cy="304.8" r="2.5"/><circle cx="508" cy="311.3" r="4"/><circle cx="367" cy="379.3" r="9.5"/><circle cx="303.5" cy="384.3" r="4.5"/><circle cx="563" cy="210.8" r="2.75"/><circle cx="654" cy="195.05" r="1.75"/><circle cx="757.5" cy="210.8" r="1.75"/><circle cx="673" cy="284.8" r="3.25"/><circle cx="529" cy="262.8" r="3"/><circle cx="517" cy="285.05" r="3.75"/><circle cx="521.5" cy="310.55" r="6.75"/><circle cx="531.25" cy="324.3" r="3.5"/><circle cx="525" cy="384.55" r="4.5"/><circle cx="930.25" cy="177.55" r="1.75"/><circle cx="317.4" cy="400.5" r="16.9"/><circle cx="525.5" cy="413.55" r="6"/><circle cx="615.5" cy="420.8" r="3"/><circle cx="713.75" cy="402.05" r="3.75"/><circle cx="705.5" cy="431.8" r="8"/><circle cx="575.75" cy="483.55" r="3.5"/><circle cx="805" cy="447.3" r="4.25"/>
</g>
</g>
</svg>
</body></html>
